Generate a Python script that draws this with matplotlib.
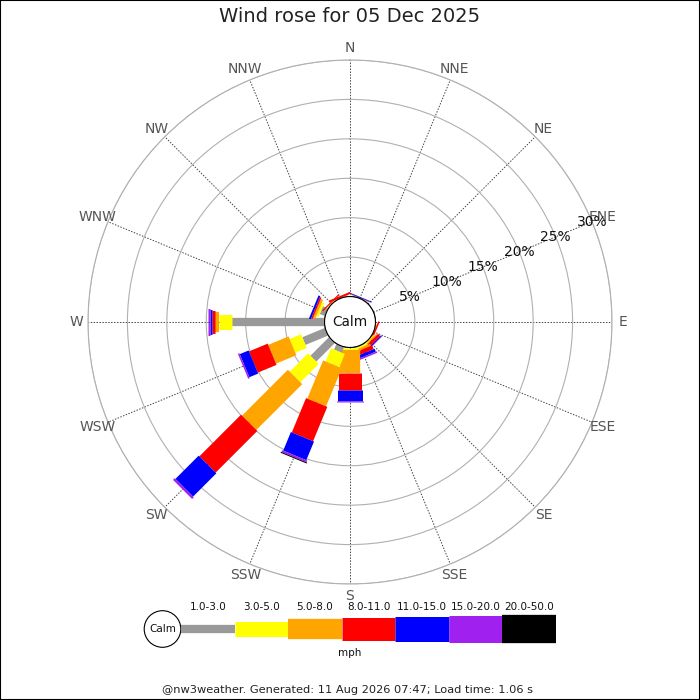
import numpy as np
import matplotlib
matplotlib.use("Agg")
import matplotlib.pyplot as plt
from matplotlib.patches import Circle, Rectangle

# ---------------- data ----------------
directions = ['N', 'NNE', 'NE', 'ENE', 'E', 'ESE', 'SE', 'SSE',
              'S', 'SSW', 'SW', 'WSW', 'W', 'WNW', 'NW', 'NNW']
speed_bins = ['1.0-3.0', '3.0-5.0', '5.0-8.0', '8.0-11.0',
              '11.0-15.0', '15.0-20.0', '20.0-50.0']

# frequency (%) per direction for each speed class
f_1_3   = [0.00, 0.00, 0, 0, 0, 0.00, 0.05, 0.10, 0.10, 0.77, 3.35, 3.10, 11.75, 0.70, 0.05, 0.00]
f_3_5   = [0.00, 0.00, 0, 0, 0, 0.00, 0.15, 0.20, 0.20, 1.80, 3.27, 1.57, 1.69, 0.30, 0.05, 0.00]
f_5_8   = [0.00, 0.05, 0, 0, 0, 0.05, 0.15, 0.30, 2.97, 5.25, 8.23, 2.79, 0.42, 0.30, 0.05, 0.05]
f_8_11  = [0.00, 0.05, 0, 0, 0, 0.20, 0.40, 0.50, 2.11, 4.71, 7.47, 2.57, 0.42, 0.20, 0.15, 0.25]
f_11_15 = [0.00, 0.10, 0, 0, 0, 0.00, 0.15, 0.40, 1.35, 2.55, 4.18, 1.22, 0.30, 0.25, 0.00, 0.00]
f_15_20 = [0.00, 0.00, 0, 0, 0, 0.00, 0.05, 0.20, 0.21, 0.25, 0.30, 0.20, 0.25, 0.00, 0.00, 0.00]
f_20_50 = [0.00, 0.00, 0, 0, 0, 0.00, 0.00, 0.00, 0.00, 0.13, 0.00, 0.00, 0.00, 0.00, 0.00, 0.00]

ring_values = [5, 10, 15, 20, 25, 30]

title = 'Wind rose for 05 Dec 2025'
footer = '@nw3weather. Generated: 11 Aug 2026 07:47; Load time: 1.06 s'

# ---------------- style ----------------
colors = ['#999999', '#ffff00', '#ffa500', '#ff0000', '#0000ff', '#a020f0', '#000000']
widths_px = [8.3, 15, 20.3, 23, 25, 27, 28.3]
DPI = 100
PT = 72.0 / DPI
calm_offset = 3.23     # hole radius, in % units
rmax = 30

series = [f_1_3, f_3_5, f_5_8, f_8_11, f_11_15, f_15_20, f_20_50]

fig = plt.figure(figsize=(7, 7), dpi=DPI, facecolor='white')

# polar axes: centre at (350,322) px, outer radius 262 px
cx, cy, R = 350, 322, 262
ax = fig.add_axes([(cx - R) / 700, 1 - (cy + R) / 700, 2 * R / 700, 2 * R / 700],
                  projection='polar')
ax.set_theta_zero_location('N')
ax.set_theta_direction(-1)
ax.set_ylim(0, rmax)
ax.set_rorigin(-calm_offset)

angles = np.deg2rad(np.arange(16) * 22.5)
ax.set_xticks(angles)
ax.set_xticklabels([])
ax.set_yticks(ring_values)
ax.set_yticklabels([])
ax.yaxis.grid(True, color='#b0b0b0', lw=0.8, ls='-')
ax.xaxis.grid(True, color='#444444', lw=0.7, ls=(0, (1.5, 1.5)))
ax.spines['polar'].set_color('#b0b0b0')
ax.spines['polar'].set_linewidth(0.8)
ax.spines['inner'].set_visible(False)
ax.tick_params(length=0)

# bars: stacked radial segments with constant pixel widths
for d, th in enumerate(angles):
    base = 0.0
    for k, s in enumerate(series):
        v = s[d]
        if v <= 0:
            continue
        ax.plot([th, th], [base, base + v], color=colors[k],
                lw=widths_px[k] * PT, solid_capstyle='butt', zorder=3)
        base += v

# calm circle
calm_r = 0.5 * calm_offset / (rmax + calm_offset)
ax.add_patch(Circle((0.5, 0.5), calm_r, transform=ax.transAxes, fc='white',
                    ec='black', lw=0.8, zorder=5, clip_on=False))
ax.text(0.5, 0.5, 'Calm', transform=ax.transAxes, ha='center', va='center',
        fontsize=9.8, color='#111111', zorder=6)

# direction labels
px_per_unit = R / (rmax + calm_offset)
for name, th in zip(directions, angles):
    ax.text(th, rmax + 11.5 / px_per_unit, name, ha='center', va='center',
            fontsize=10, color='#555555', clip_on=False)

# ring labels along ENE
for v in ring_values:
    ax.text(np.deg2rad(67.5), v, f'{v}%', ha='center', va='center',
            fontsize=10, color='#111111', zorder=6, clip_on=False)

# ---------------- legend ----------------
lx0, lx1, ly = 181, 556, 629
lw_px = lx1 - lx0
lax = fig.add_axes([lx0 / 700, 1 - (ly + 40) / 700, lw_px / 700, 80 / 700])
lax.set_xlim(0, lw_px)
lax.set_ylim(40, -40)
lax.axis('off')
seg = lw_px / len(speed_bins)
for i, lab in enumerate(speed_bins):
    lax.plot([i * seg, (i + 1) * seg], [0, 0], color=colors[i],
             lw=widths_px[i] * PT, solid_capstyle='butt')
    lax.text((i + 0.5) * seg, -22.3, lab, ha='center', va='center',
             fontsize=7.5, color='#111111')
lax.add_patch(Circle((-18.5, 0), 18.3, fc='white', ec='black', lw=0.8,
                     clip_on=False))
lax.text(-18.5, 0, 'Calm', ha='center', va='center', fontsize=7.5, color='#111111')
fig.text(0.5, 1 - 653 / 700, 'mph', ha='center', va='center', fontsize=7.5,
         color='#111111')

# title / footer
fig.text(0.5, 1 - 17 / 700, title, ha='center', va='center', fontsize=14,
         color='#222222')
fig.text(0.497, 1 - 690 / 700, footer, ha='center', va='center', fontsize=8.2,
         color='#222222')

# border
fig.patches.append(Rectangle((0, 0), 1, 1, transform=fig.transFigure, fill=False,
                             ec='black', lw=1.5))

fig.savefig('out.png', dpi=DPI, facecolor='white')
